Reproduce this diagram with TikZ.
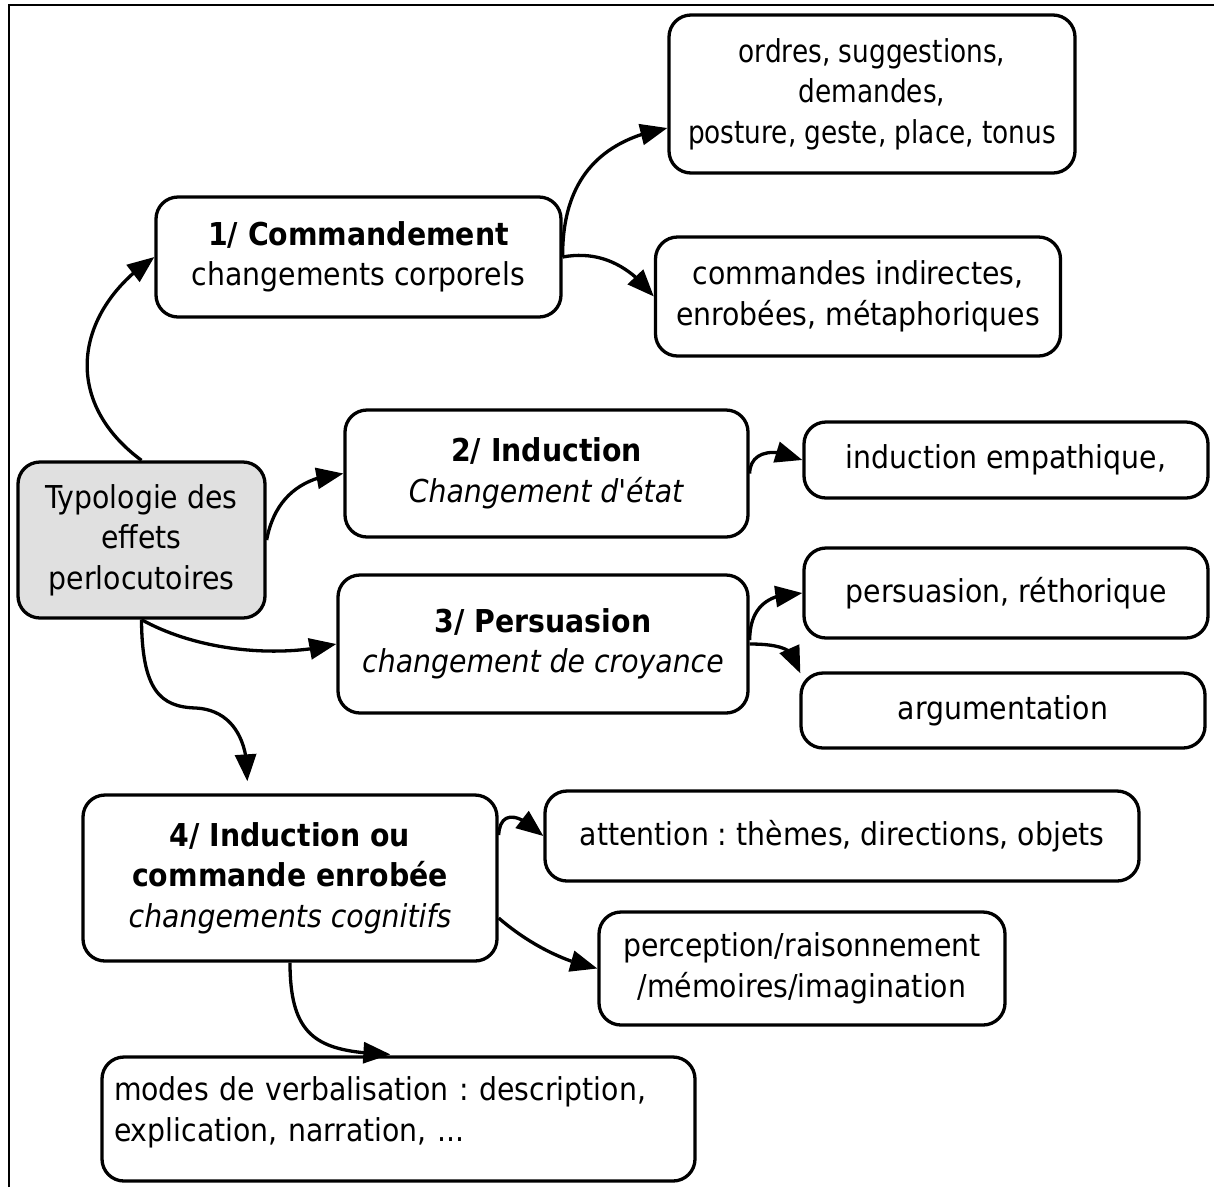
\documentclass[tikz,border=0pt]{standalone}
\usepackage{fontspec}
\usepackage{graphicx}
\setmainfont{DejaVu Sans Condensed}[Ligatures=TeXOff]
\usetikzlibrary{arrows.meta,calc,bending}
\definecolor{rootgray}{RGB}{224,224,224}
\newcommand{\nar}[1]{\scalebox{0.93}[1]{#1}}
\tikzset{
  box/.style={draw, line width=3.3pt, rounded corners=22pt, align=center, inner sep=0pt,
    font=\fontsize{31.5}{40.5}\selectfont\frenchspacing},
  arr/.style={line width=3.3pt, -{Triangle[length=27pt,width=21pt,flex]}},
}
\begin{document}
\begin{tikzpicture}[x=1pt,y=-1pt]
\useasboundingbox (0,0) rectangle (1214,1187);
\draw[line width=2.6pt] (9,1187) -- (9,5) -- (1214,5);

\node[box,fill=rootgray,minimum width=247pt,minimum height=156pt] (root) at (141.5,540)
  {Typologie des\\effets\\perlocutoires};
\node[box,minimum width=405pt,minimum height=120pt] (b1) at (358.5,257)
  {\textbf{1/ Commandement}\\changements corporels};
\node[box,minimum width=406pt,minimum height=158pt] (ordres) at (872,94)
  {\nar{ordres, suggestions,}\\\nar{demandes,}\\\nar{posture, geste, place, tonus}};
\node[box,minimum width=405pt,minimum height=119pt] (cmd) at (858,296.5)
  {commandes indirectes,\\enrobées, métaphoriques};
\node[box,minimum width=403pt,minimum height=127pt] (b2) at (546.5,473.5)
  {\textbf{2/ Induction}\\\textit{Changement d'état}};
\node[box,minimum width=410pt,minimum height=138pt] (b3) at (543,644)
  {\textbf{3/ Persuasion}\\\textit{changement de croyance}};
\node[box,minimum width=404pt,minimum height=76pt] (ind) at (1006,460)
  {induction empathique,};
\node[box,minimum width=404pt,minimum height=90pt] (pers) at (1006,593)
  {persuasion, réthorique};
\node[box,minimum width=404pt,minimum height=75pt] (arg) at (1003,710.5)
  {argumentation};
\node[box,minimum width=414pt,minimum height=166pt] (b4) at (290,878)
  {\textbf{4/ Induction ou}\\\textbf{commande enrobée}\\\textit{changements cognitifs}};
\node[box,minimum width=594pt,minimum height=90pt] (att) at (842,836)
  {attention : thèmes, directions, objets};
\node[box,minimum width=406pt,minimum height=113pt] (perc) at (802,968.5)
  {perception/raisonnement\\/mémoires/imagination};
\node[box,minimum width=593pt,minimum height=124pt,align=left,text width=569pt] (modes) at (398.5,1119)
  {modes de verbalisation : description,\\explication, narration, ...\rule[-20pt]{0pt}{0pt}};

% connectors from root
\draw[arr] (root.north) .. controls (60,400) and (75,310) .. (b1.west);
\draw[arr] (root.east) .. controls (275,495) and (305,476) .. (b2.west);
\draw[arr] (root.south) .. controls (200,652) and (280,658) .. (b3.west);
\coordinate (b4in) at ($(b4.north west)+(166,-12)$);
\draw[arr] (root.south) .. controls (142,690) and (160,707) .. (196,708)
  .. controls (232,710) and (249,740) .. (b4in);
% from b1
\coordinate (ordin) at ($(ordres.west)+(0,34)$);
\draw[arr] (b1.east) .. controls (562,180) and (600,140) .. (ordin);
\draw[arr] (b1.east) .. controls (600,250) and (630,266) .. (cmd.west);
% from b2, b3
\draw[arr] (b2.east) .. controls (750,452) and (772,446) .. (ind.west);
\coordinate (b3o1) at ($(b3.east)+(0,-4)$);
\draw[arr] (b3o1) .. controls (750,605) and (770,593) .. (pers.west);
\draw[arr] (b3.east) .. controls (782,644) and (800,650) .. ($(arg.north west)+(1,2)$);
% from b4
\coordinate (b4o1) at ($(b4.east)+(0,-43)$);
\coordinate (b4o2) at ($(b4.east)+(0,40)$);
\draw[arr] (b4o1) .. controls (500,812) and (516,810) .. (att.west);
\draw[arr] (b4o2) .. controls (530,945) and (565,962) .. (perc.west);
\coordinate (modin) at ($(modes.north west)+(290,-1)$);
\draw[arr] (b4.south) .. controls (290,1040) and (320,1052) .. (modin);
\end{tikzpicture}
\end{document}
